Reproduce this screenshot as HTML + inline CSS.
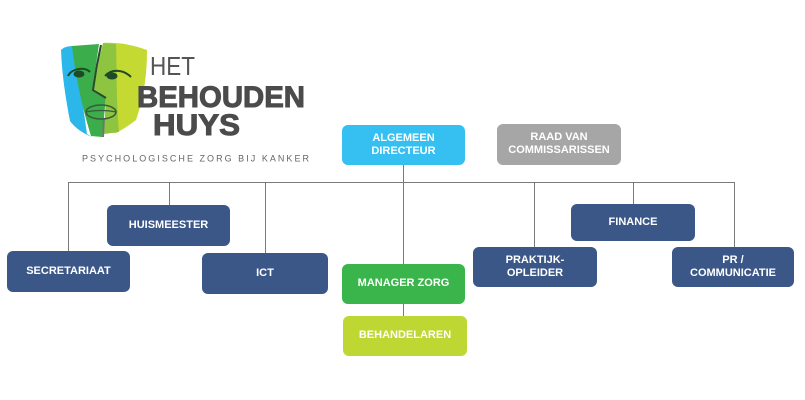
<!DOCTYPE html>
<html>
<head>
<meta charset="utf-8">
<style>
  html,body{margin:0;padding:0;background:#fff;}
  body{width:805px;height:400px;position:relative;overflow:hidden;font-family:"Liberation Sans",sans-serif;}
  .b{position:absolute;border-radius:6px;color:#fff;font-weight:bold;font-size:11px;line-height:13px;display:flex;align-items:center;justify-content:center;text-align:center;box-sizing:border-box;padding-bottom:1px;}
  .n{background:#3b5788;}
  svg{position:absolute;left:0;top:0;}
</style>
</head>
<body>
<svg width="805" height="400" viewBox="0 0 805 400">
  <!-- logo face -->
  <path d="M61,50 C64,47 68,46 74,46 L80,85 L87,134 L92,137 C84,134 75,128 70,121 C66,100 62,76 61,50 Z" fill="#2bb7e9"/>
  <path d="M72,46 L99,44 L96,65 L93,90 L106,97 L102,137 L91,136 C83,110 76,80 72,46 Z" fill="#3cad4b"/>
  <path d="M103,43 C118,42 134,45 147,50 C147,78 143,100 136,120 C128,126 122,130 116,133 L104,132 L106,97 L94,89 Z" fill="#c4d931"/>
  <path d="M103,43 L116,44 C117,70 116,100 119,132 L104,134 L106,97 L94,89 L99,60 Z" fill="#8dc540"/>
  <path d="M101,45 L97,65 L93,90 L106,98" fill="none" stroke="#2b4a2b" stroke-width="2"/>
  <path d="M104,118 L103,137" fill="none" stroke="#6a7a6a" stroke-width="2"/>
  <ellipse cx="79" cy="74" rx="5.5" ry="3.5" fill="#1f4a27"/>
  <path d="M68,76 C71,69 84,66 90,72" fill="none" stroke="#1f4a27" stroke-width="2"/>
  <ellipse cx="112" cy="76" rx="5.5" ry="3.5" fill="#1f4a27"/>
  <path d="M105,76 C112,68 124,70 131,77" fill="none" stroke="#1f4a27" stroke-width="2"/>
  <ellipse cx="101" cy="112" rx="15" ry="7" fill="none" stroke="#3b5a3b" stroke-width="1.6"/>
  <path d="M86,112 C95,110 107,110 116,112" fill="none" stroke="#3b5a3b" stroke-width="1.3"/>
  <!-- logo text -->
  <text x="150" y="75" font-family="Liberation Sans, sans-serif" font-size="26" fill="#555" textLength="45" lengthAdjust="spacingAndGlyphs">HET</text>
  <text x="137" y="107" font-family="Liberation Sans, sans-serif" font-size="30" font-weight="bold" fill="#4b4b4b" stroke="#4b4b4b" stroke-width="1" textLength="168" lengthAdjust="spacingAndGlyphs">BEHOUDEN</text>
  <text x="153" y="135" font-family="Liberation Sans, sans-serif" font-size="30" font-weight="bold" fill="#4b4b4b" stroke="#4b4b4b" stroke-width="1" textLength="87" lengthAdjust="spacingAndGlyphs">HUYS</text>
  <text x="82" y="161.5" font-family="Liberation Sans, sans-serif" font-size="9" fill="#666" textLength="227" lengthAdjust="spacing">PSYCHOLOGISCHE ZORG BIJ KANKER</text>
  <!-- connectors -->
  <g stroke="#7a7a7a" stroke-width="1" fill="none">
    <line x1="68" y1="182.5" x2="734" y2="182.5"/>
    <line x1="68.5" y1="182" x2="68.5" y2="252"/>
    <line x1="169.5" y1="182" x2="169.5" y2="206"/>
    <line x1="265.5" y1="182" x2="265.5" y2="254"/>
    <line x1="403.5" y1="165" x2="403.5" y2="265"/>
    <line x1="403.5" y1="304" x2="403.5" y2="317"/>
    <line x1="534.5" y1="182" x2="534.5" y2="248"/>
    <line x1="633.5" y1="182" x2="633.5" y2="205"/>
    <line x1="734.5" y1="182" x2="734.5" y2="248"/>
  </g>
</svg>

<div class="b" style="left:342px;top:125px;width:123px;height:40px;background:#35c0f1;">ALGEMEEN<br>DIRECTEUR</div>
<div class="b" style="left:497px;top:124px;width:124px;height:41px;background:#a6a6a6;">RAAD VAN<br>COMMISSARISSEN</div>

<div class="b n" style="left:107px;top:205px;width:123px;height:41px;">HUISMEESTER</div>
<div class="b n" style="left:7px;top:251px;width:123px;height:41px;">SECRETARIAAT</div>
<div class="b n" style="left:202px;top:253px;width:126px;height:41px;">ICT</div>

<div class="b" style="left:342px;top:264px;width:123px;height:40px;background:#3ab54b;">MANAGER ZORG</div>
<div class="b" style="left:343px;top:316px;width:124px;height:40px;background:#bfd732;">BEHANDELAREN</div>

<div class="b n" style="left:571px;top:204px;width:124px;height:37px;">FINANCE</div>
<div class="b n" style="left:473px;top:247px;width:124px;height:40px;">PRAKTIJK-<br>OPLEIDER</div>
<div class="b n" style="left:672px;top:247px;width:122px;height:40px;">PR /<br>COMMUNICATIE</div>
</body>
</html>
